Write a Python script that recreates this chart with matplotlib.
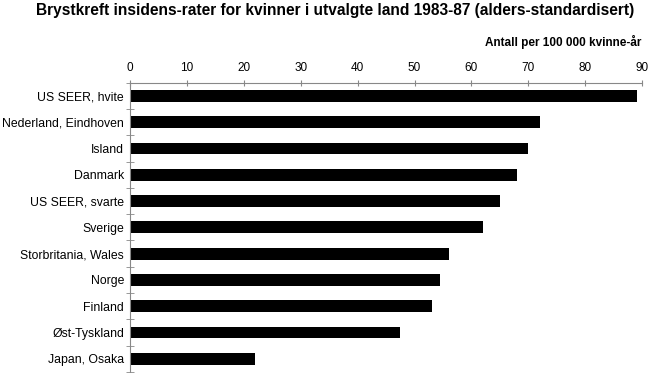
import matplotlib.pyplot as plt
import numpy as np

plt.rcParams['font.family'] = ['Liberation Sans', 'DejaVu Sans']

land = ["US SEER, hvite", "Nederland, Eindhoven", "Island", "Danmark",
        "US SEER, svarte", "Sverige", "Storbritania, Wales", "Norge",
        "Finland", "Øst-Tyskland", "Japan, Osaka"]
rater = [89, 72, 70, 68, 65, 62, 56, 54.5, 53, 47.5, 22]
xticks = [0, 10, 20, 30, 40, 50, 60, 70, 80, 90]

fig = plt.figure(figsize=(6.5, 3.73), dpi=100)
ax = fig.add_axes([0.2, 0.003, 0.788, 0.775])

y = np.arange(len(land))
ax.barh(y, rater, height=0.45, color='black')
ax.set_ylim(len(land) - 0.5, -0.5)
ax.set_xlim(0, 90)

ax.xaxis.tick_top()
ax.set_xticks(xticks)
ax.set_xticklabels([str(t) for t in xticks], fontsize=8.5)
ax.set_yticks(y)
ax.set_yticklabels(land, fontsize=8.8)
ax.set_yticks(np.arange(len(land) + 1) - 0.5, minor=True)
ax.tick_params(axis='y', which='major', length=0, pad=4.3)
ax.tick_params(axis='y', which='minor', direction='inout', length=6, color='#888888')
ax.tick_params(axis='x', direction='inout', length=5, color='#888888', pad=4.0)

for s in ['right', 'bottom']:
    ax.spines[s].set_visible(False)
for s in ['top', 'left']:
    ax.spines[s].set_color('#888888')

fig.text(0.515, 0.972, "Brystkreft insidens-rater for kvinner i utvalgte land 1983-87 (alders-standardisert)",
         ha='center', va='center', fontsize=11.2, fontweight='bold')
fig.text(0.986, 0.887, "Antall per 100 000 kvinne-år", ha='right', va='center',
         fontsize=8.5, fontweight='bold')

fig.savefig('out.png', dpi=100)
